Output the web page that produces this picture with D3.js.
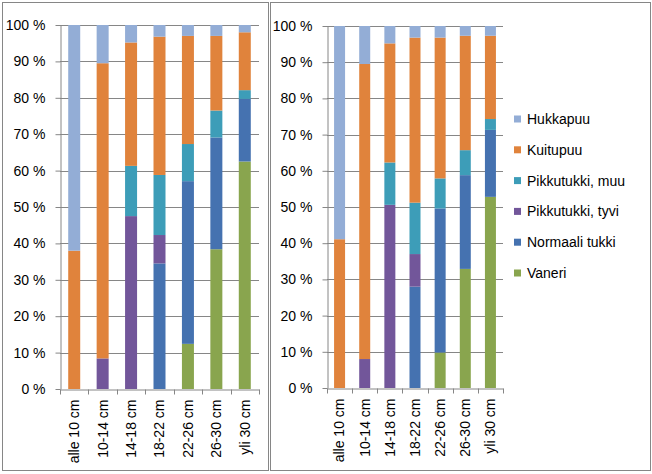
<!DOCTYPE html>
<html><head><meta charset="utf-8">
<script src="https://cdn.jsdelivr.net/npm/d3@7"></script>
<style>body{margin:0;background:#fff}svg{display:block}text{font-family:"Liberation Sans",Arial,sans-serif;fill:#000}</style>
</head><body>
<svg id="c" width="652" height="474"></svg>
<script>
const categories = ["alle 10 cm","10-14 cm","14-18 cm","18-22 cm","22-26 cm","26-30 cm","yli 30 cm"];
const seriesNames = ["Vaneri","Normaali tukki","Pikkutukki, tyvi","Pikkutukki, muu","Kuitupuu","Hukkapuu"];
const seriesColors = ["#89A54E","#4572B0","#72569A","#3D9DB8","#E0833C","#93ADD6"];
const yTicks = [0,10,20,30,40,50,60,70,80,90,100];

// Left chart, percent per series (bottom to top)
const leftVaneri    = [0, 0, 0, 0, 12.4, 38.4, 62.5];
const leftNormaali  = [0, 0, 0, 34.5, 44.7, 30.7, 17.2];
const leftTyvi      = [0, 8.4, 47.5, 7.8, 0, 0, 0];
const leftMuu       = [0, 0, 13.8, 16.5, 10.2, 7.4, 2.4];
const leftKuitupuu  = [38, 81.1, 33.9, 38, 29.7, 20.5, 15.9];
const leftHukkapuu  = [62, 10.5, 4.8, 3.2, 3, 3, 2];

// Right chart
const rightVaneri   = [0, 0, 0, 0, 9.8, 32.9, 52.8];
const rightNormaali = [0, 0, 0, 28, 39.8, 25.9, 18.5];
const rightTyvi     = [0, 8, 50.6, 9, 0, 0, 0];
const rightMuu      = [0, 0, 11.7, 14.2, 8.3, 6.9, 3];
const rightKuitupuu = [41.1, 81.5, 32.9, 45.6, 38.9, 31.6, 23];
const rightHukkapuu = [58.9, 10.5, 4.8, 3.2, 3.2, 2.7, 2.7];

const leftData = [leftVaneri,leftNormaali,leftTyvi,leftMuu,leftKuitupuu,leftHukkapuu];
const rightData = [rightVaneri,rightNormaali,rightTyvi,rightMuu,rightKuitupuu,rightHukkapuu];

const svg = d3.select("#c");
const grid = "#868686";
const FS = "14px";

function frame(x0,y0,x1,y1){
  svg.append("rect").attr("x",x0+0.5).attr("y",y0+0.5).attr("width",x1-x0).attr("height",y1-y0)
    .attr("fill","#fff").attr("stroke",grid).attr("stroke-width",1);
}

function chart(data, left, right, top, bottom, barW){
  const g = svg.append("g");
  const x = d3.scaleBand().domain(categories).range([left,right]).padding(0);
  const y = d3.scaleLinear().domain([0,100]).range([bottom,top]);
  // gridlines
  g.selectAll("line.grid").data(yTicks.filter(t=>t>0)).join("line")
    .attr("x1",left).attr("x2",right)
    .attr("y1",d=>Math.round(y(d))+0.5).attr("y2",d=>Math.round(y(d))+0.5)
    .attr("stroke",grid).attr("stroke-width",1);
  // stacked bars
  const rows = categories.map((c,i)=>{const o={cat:c}; seriesNames.forEach((s,j)=>o[s]=data[j][i]); return o;});
  const stack = d3.stack().keys(seriesNames)(rows);
  stack.forEach((layer,j)=>{
    g.append("g").attr("fill",seriesColors[j]).selectAll("rect").data(layer).join("rect")
      .attr("x",d=>x(d.data.cat)+x.bandwidth()/2-barW/2)
      .attr("width",barW)
      .attr("y",d=>y(d[1]))
      .attr("height",d=>Math.max(0,y(d[0])-y(d[1])));
  });
  // y axis
  const ya = d3.axisLeft(y).tickValues(yTicks).tickFormat(d=>d+" %").tickSize(5).tickSizeOuter(0).tickPadding(10);
  const yg = g.append("g").attr("transform",`translate(${left+0.5},0)`).call(ya);
  yg.selectAll("path,line").attr("stroke",grid);
  yg.selectAll("text").style("font-size",FS).attr("fill","#000");
  // x axis
  const xa = d3.axisBottom(x).tickSize(0).tickSizeOuter(0).tickFormat(d=>d);
  const xg = g.append("g").attr("transform",`translate(0,${bottom+0.5})`).call(xa);
  xg.select("path").attr("stroke",grid);
  xg.selectAll("text").style("font-size",FS).attr("fill","#000")
    .attr("transform","rotate(-90)").attr("text-anchor","end").attr("dy","0.35em").attr("y",0).attr("x",-10);
  // category boundary ticks
  const bounds = categories.map(c=>x(c)).concat([right]);
  xg.selectAll("line.b").data(bounds).join("line")
    .attr("x1",d=>Math.round(d)+0.5).attr("x2",d=>Math.round(d)+0.5).attr("y1",0).attr("y2",5)
    .attr("stroke",grid);
  return {x,y};
}

frame(2,2,268,470);
frame(270,2,650,470);
chart(leftData, 60, 259, 25, 389, 12);
chart(rightData, 327, 503, 26, 388, 11);

// legend
const legendOrder = [5,4,3,2,1,0];
const lg = svg.append("g");
legendOrder.forEach((j,k)=>{
  const cy = 119 + k*30.8;
  lg.append("rect").attr("x",514).attr("y",cy-3.5).attr("width",7).attr("height",7).attr("fill",seriesColors[j]);
  lg.append("text").attr("x",527).attr("y",cy).attr("dy","0.35em").style("font-size",FS).text(seriesNames[j]);
});
</script>
</body></html>
